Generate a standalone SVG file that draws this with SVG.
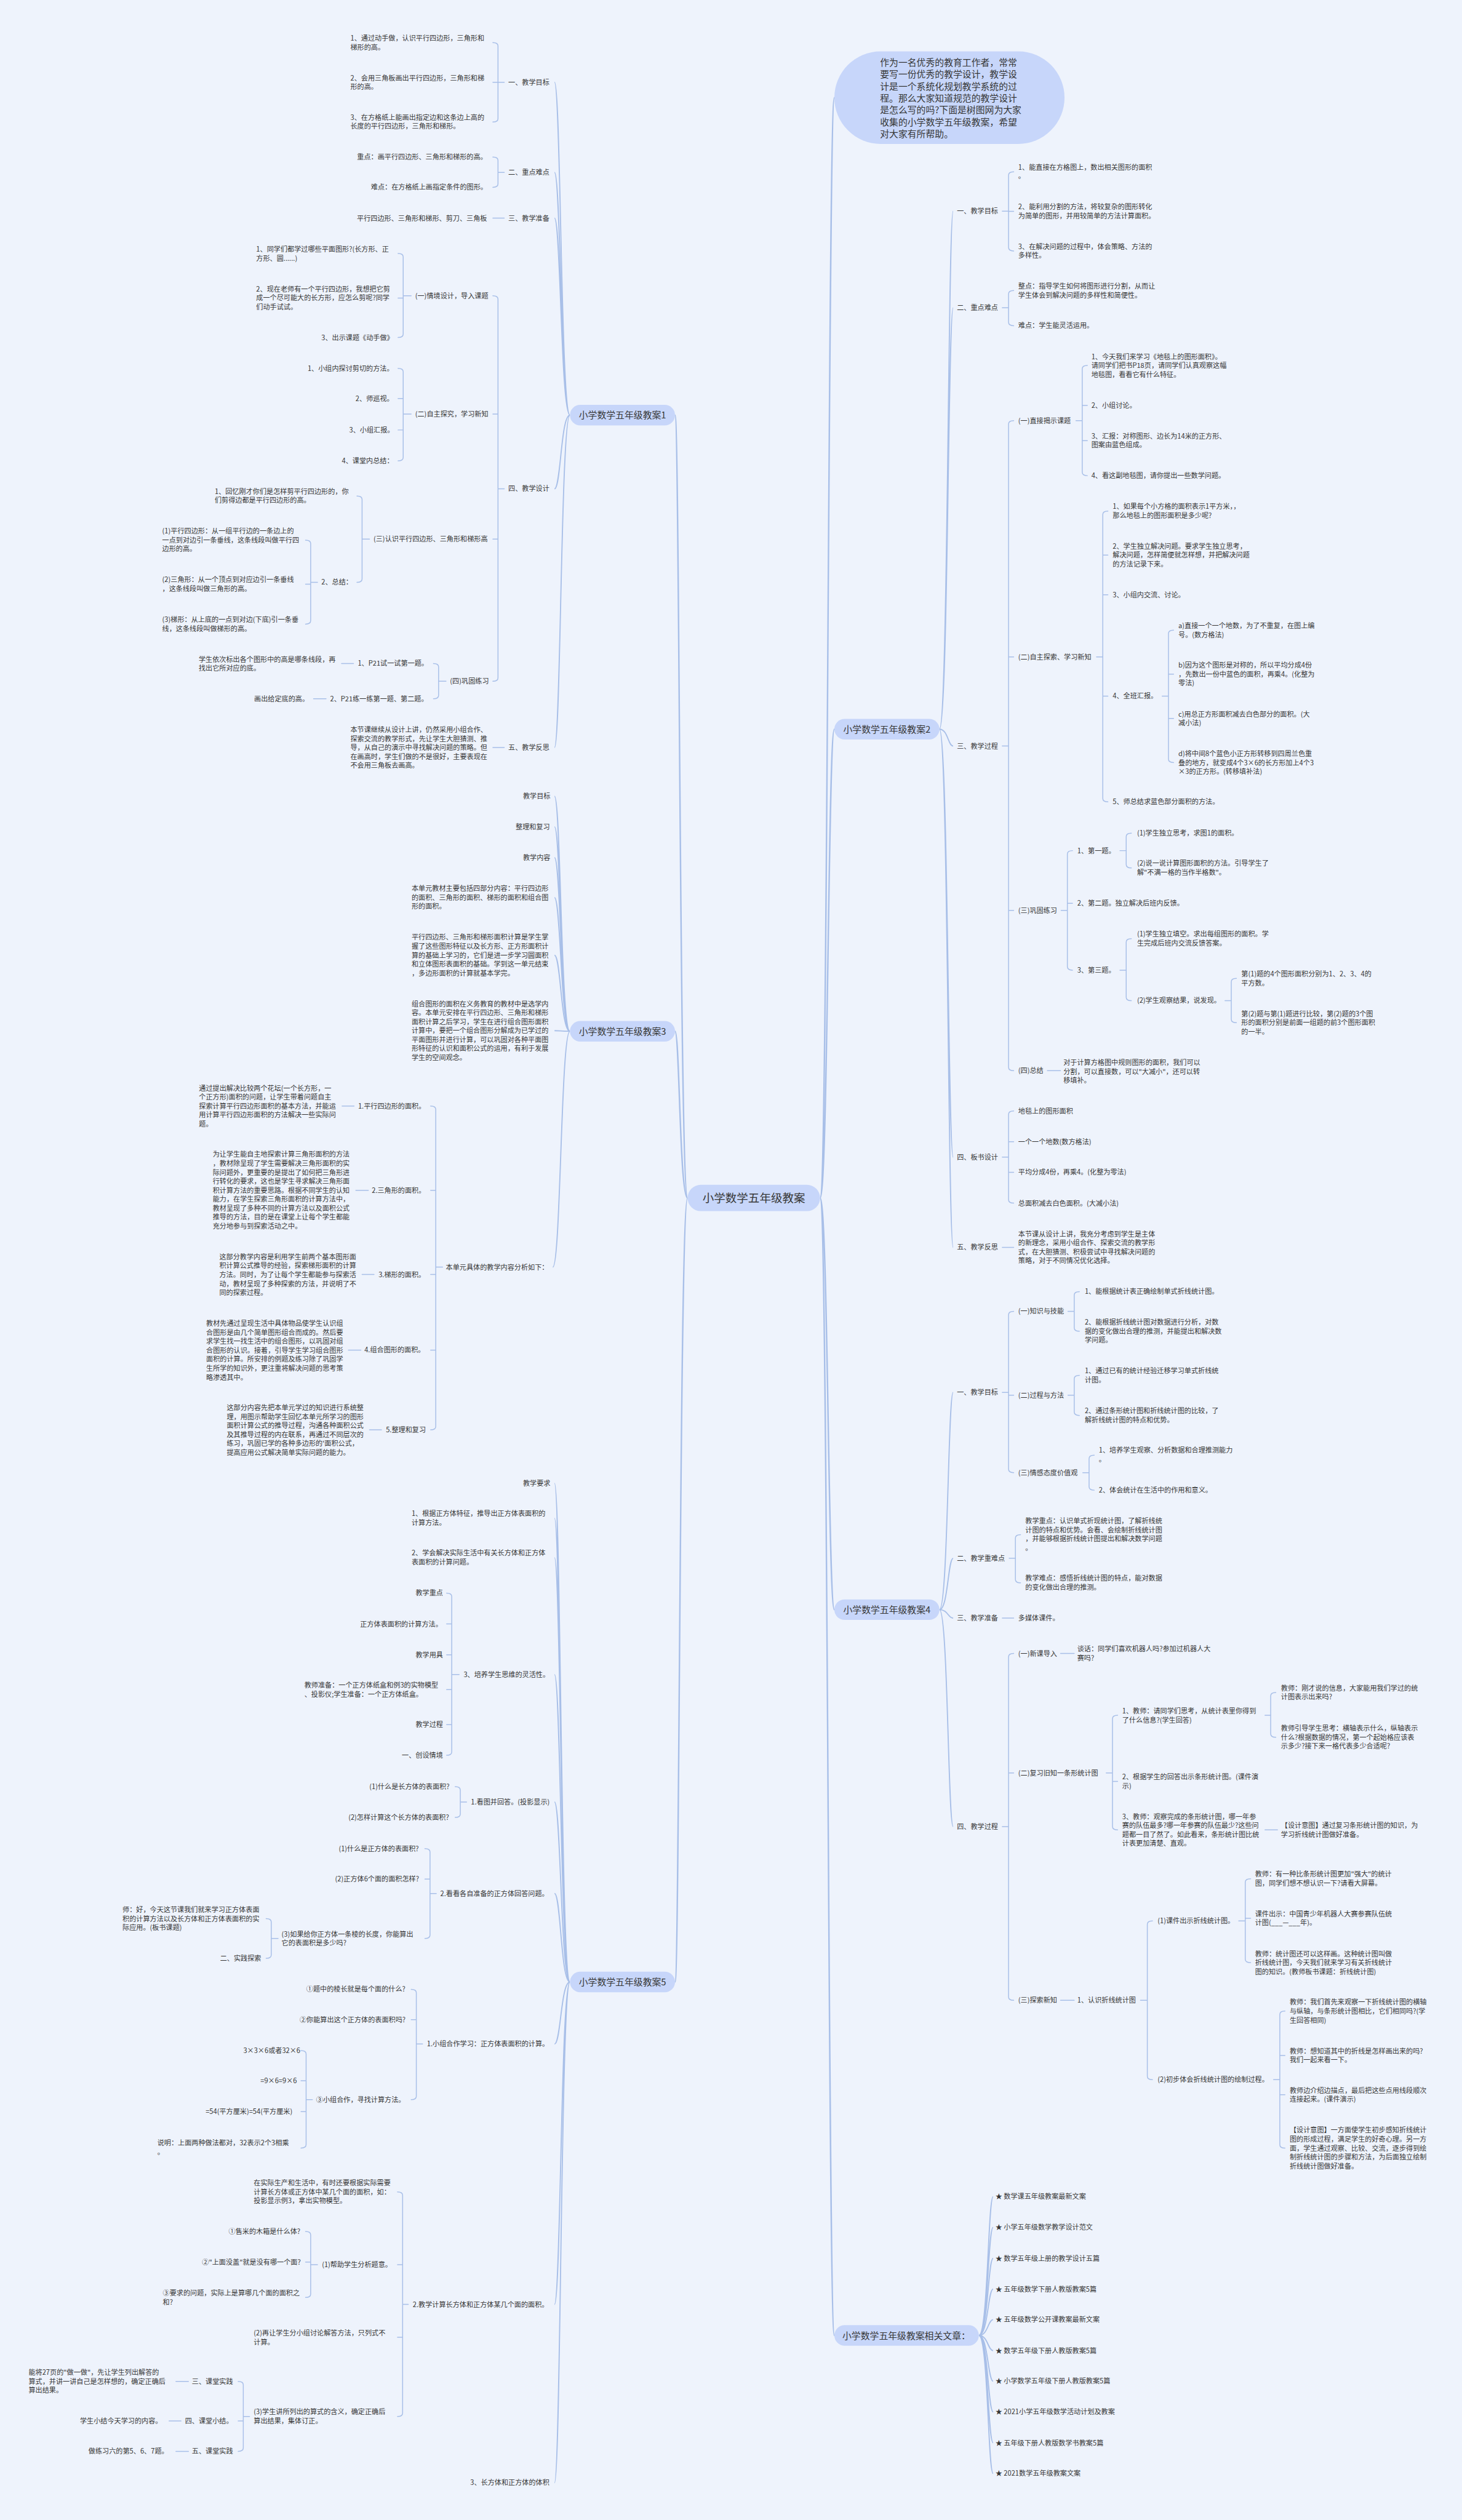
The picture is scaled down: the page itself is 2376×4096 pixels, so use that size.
<svg xmlns="http://www.w3.org/2000/svg" width="2376" height="4096" viewBox="0 0 2376 4096">
<style>
.t{font-family:"Noto Sans CJK SC","Noto Sans",sans-serif;font-size:12px;fill:#363636}
.n{font-family:"Noto Sans CJK SC","Noto Sans",sans-serif;font-size:16px;fill:#363636;text-anchor:middle}
.c{font-family:"Noto Sans CJK SC","Noto Sans",sans-serif;font-size:20px;fill:#363636;text-anchor:middle}
.b{font-family:"Noto Sans CJK SC","Noto Sans",sans-serif;font-size:16px;fill:#363636}
.box{fill:#c7d6fa}
.l{fill:none;stroke:#a8bfe8;stroke-width:1.6;stroke-linecap:round}
.l1{fill:none;stroke:#a8bfe8;stroke-width:2}
.m{fill:none;stroke:#a8bfe8;stroke-width:2.6}
</style>
<rect width="2376" height="4096" fill="#eef3fc"/>
<g transform="scale(0.928125)">
<g id="connectors">
<path class="m" d="M1204 2098C1190 2098 1190 727 1182 727M1204 2098C1190 2098 1190 1806 1182 1806M1204 2098C1190 2098 1190 3471 1182 3471M1436 2098C1450 2098 1450 171 1461 171M1436 2098C1450 2098 1450 1277 1461 1277M1436 2098C1450 2098 1450 2819 1461 2819M1436 2098C1450 2098 1450 4090 1461 4090"/>
<path class="l1" d="M998 727C982 727 982 144 971 144M998 727C982 727 982 302 971 302M998 727C982 727 982 382 971 382M998 727C982 727 982 856 971 856M998 727C982 727 982 1309 971 1309"/>
<path class="l1" d="M998 1806C982 1806 982 1394.5 971 1394.5M998 1806C982 1806 982 1448 971 1448M998 1806C982 1806 982 1502 971 1502M998 1806C982 1806 982 1572 971 1572M998 1806C982 1806 982 1673 971 1673M998 1806C982 1806 982 1805 971 1805M998 1806C982 1806 982 2219 968 2219"/>
<path class="l1" d="M998 3471C982 3471 982 2597.5 971 2597.5M998 3471C982 3471 982 2659 971 2659M998 3471C982 3471 982 2728 971 2728M998 3471C982 3471 982 2932.6 971 2932.6M998 3471C982 3471 982 3155.8 971 3155.8M998 3471C982 3471 982 3316 971 3316M998 3471C982 3471 982 3579.6 971 3579.6M998 3471C982 3471 982 4035.6 971 4035.6M998 3471C982 3471 982 4348 971 4348"/>
<path class="l1" d="M1645 1277C1660 1277 1660 369.8 1669 369.8M1645 1277C1660 1277 1660 539 1669 539M1645 1277C1660 1277 1660 1306.5 1669 1306.5M1645 1277C1660 1277 1660 2026.5 1669 2026.5M1645 1277C1660 1277 1660 2184.5 1669 2184.5"/>
<path class="l1" d="M1645 2819C1660 2819 1660 2438.4 1669 2438.4M1645 2819C1660 2819 1660 2729 1669 2729M1645 2819C1660 2819 1660 2833.7 1669 2833.7M1645 2819C1660 2819 1660 3198.8 1669 3198.8"/>
<path class="l1" d="M1714 4090C1730 4090 1730 3847 1739 3847M1714 4090C1730 4090 1730 3900.7 1739 3900.7M1714 4090C1730 4090 1730 3955 1739 3955M1714 4090C1730 4090 1730 4008.7 1739 4008.7M1714 4090C1730 4090 1730 4062.4 1739 4062.4M1714 4090C1730 4090 1730 4116.6 1739 4116.6M1714 4090C1730 4090 1730 4170 1739 4170M1714 4090C1730 4090 1730 4224 1739 4224M1714 4090C1730 4090 1730 4278 1739 4278M1714 4090C1730 4090 1730 4331.7 1739 4331.7"/>
<path class="l" d="M883 144H872M863 74.5Q872 74.5 872 80.5V207.7Q872 213.7 863 213.7M872 144H863"/>
<path class="l" d="M883 302H872M863 275Q872 275 872 281V322Q872 328 863 328"/>
<path class="l" d="M883 382H863"/>
<path class="l" d="M883 856H872M863 518Q872 518 872 524V1187Q872 1193 863 1193M872 725H863M872 944H863"/>
<path class="l" d="M720 518H706M697 444Q706 444 706 450V585Q706 591 697 591M706 522H697"/>
<path class="l" d="M720 725H706M697 645Q706 645 706 651V801Q706 807 697 807M706 698H697M706 753H697"/>
<path class="l" d="M647 944H634M625 868.6Q634 868.6 634 874.6V1013.8Q634 1019.8 625 1019.8"/>
<path class="l" d="M556 1019.8H544M535 946Q544 946 544 952V1087Q544 1093 535 1093M544 1023H535"/>
<path class="l" d="M781 1193H768M759 1162Q768 1162 768 1168V1217.7Q768 1223.7 759 1223.7"/>
<path class="l" d="M619 1162H598M571 1223.7H549M883 1309H863"/>
<path class="l" d="M775 2219H763M754 1937Q763 1937 763 1943V2498Q763 2504 754 2504M763 2084.5H754M763 2232H754M763 2364.4H754"/>
<path class="l" d="M620 1937H599M645 2084.5H623M655 2232H634M632 2364.4H610M668 2504H647"/>
<path class="l" d="M804 2932.6H791M782 2790Q791 2790 791 2796V3068Q791 3074 782 3074M791 2844H782M791 2898H782M791 2959H782M791 3020.4H782"/>
<path class="l" d="M817 3155.8H806M797 3129Q806 3129 806 3135V3176.7Q806 3182.7 797 3182.7"/>
<path class="l" d="M764 3316H753M744 3237.5Q753 3237.5 753 3243.5V3388.8Q753 3394.8 744 3394.8M753 3290.8H744"/>
<path class="l" d="M487 3394.8H475M466 3360Q475 3360 475 3366V3423.5Q475 3429.5 466 3429.5"/>
<path class="l" d="M740 3579.6H729M720 3483.8Q729 3483.8 729 3489.8V3671Q729 3677 720 3677M729 3537H720"/>
<path class="l" d="M547 3677H536M527 3591Q536 3591 536 3597V3755.8Q536 3761.8 527 3761.8M536 3644H527M536 3698H527"/>
<path class="l" d="M715 4035.6H705M696 3838.7Q705 3838.7 705 3844.7V4225.9Q705 4231.9 696 4231.9M705 3966H696M705 4093.3H696"/>
<path class="l" d="M556 3966H544M535 3908Q544 3908 544 3914V4017.5Q544 4023.5 535 4023.5M544 3961.4H535"/>
<path class="l" d="M437 4231.9H426M417 4170.6Q426 4170.6 426 4176.6V4287Q426 4293 417 4293M426 4239.7H417"/>
<path class="l" d="M330 4170.6H308M317 4239.7H296M330 4293H308"/>
<path class="l" d="M1755 369.8H1766M1775 300.8Q1766 300.8 1766 306.8V433.5Q1766 439.5 1775 439.5M1766 370H1775"/>
<path class="l" d="M1755 539H1766M1775 508.9Q1766 508.9 1766 514.9V564.4Q1766 570.4 1775 570.4"/>
<path class="l" d="M1755 1306.5H1766M1775 736.7Q1766 736.7 1766 742.7V1869Q1766 1875 1775 1875M1766 1150.4H1775M1766 1594.4H1775"/>
<path class="l" d="M1884 736.7H1895M1904 640Q1895 640 1895 646V827Q1895 833 1904 833M1895 710H1904M1895 771.6H1904"/>
<path class="l" d="M1920 1150.4H1931M1940 895Q1931 895 1931 901V1398.3Q1931 1404.3 1940 1404.3M1931 972H1940M1931 1041.5H1940M1931 1219H1940"/>
<path class="l" d="M2035 1219H2046M2055 1103.5Q2046 1103.5 2046 1109.5V1329.4Q2046 1335.4 2055 1335.4M2046 1180.5H2055M2046 1258.3H2055"/>
<path class="l" d="M1858 1594.4H1869M1878 1489.7Q1869 1489.7 1869 1495.7V1693Q1869 1699 1878 1699M1869 1582H1878"/>
<path class="l" d="M1961 1489.7H1972M1981 1459Q1972 1459 1972 1465V1514Q1972 1520 1981 1520"/>
<path class="l" d="M1961 1699H1972M1981 1643.9Q1972 1643.9 1972 1649.9V1746.4Q1972 1752.4 1981 1752.4"/>
<path class="l" d="M2145 1752.4H2156M2165 1713.5Q2156 1713.5 2156 1719.5V1785Q2156 1791 2165 1791"/>
<path class="l" d="M1834 1875H1857"/>
<path class="l" d="M1755 2026.5H1766M1775 1945.7Q1766 1945.7 1766 1951.7V2101Q1766 2107 1775 2107M1766 1999.4H1775M1766 2053H1775"/>
<path class="l" d="M1755 2184.5H1775"/>
<path class="l" d="M1755 2438.4H1766M1775 2296.5Q1766 2296.5 1766 2302.5V2573Q1766 2579 1775 2579M1766 2443.4H1775"/>
<path class="l" d="M1870 2296.5H1881M1890 2262Q1881 2262 1881 2268V2325.4Q1881 2331.4 1890 2331.4"/>
<path class="l" d="M1870 2443.4H1881M1890 2408.5Q1881 2408.5 1881 2414.5V2472.8Q1881 2478.8 1890 2478.8"/>
<path class="l" d="M1896 2579H1907M1916 2548.5Q1907 2548.5 1907 2554.5V2603.7Q1907 2609.7 1916 2609.7"/>
<path class="l" d="M1767 2729H1778M1787 2687.7Q1778 2687.7 1778 2693.7V2766Q1778 2772 1787 2772"/>
<path class="l" d="M1755 2833.7H1775"/>
<path class="l" d="M1755 3198.8H1766M1775 2895.7Q1766 2895.7 1766 2901.7V3497Q1766 3503 1775 3503M1766 3105H1775"/>
<path class="l" d="M1857 2895.7H1881"/>
<path class="l" d="M1937 3105H1948M1957 3004Q1948 3004 1948 3010V3198.7Q1948 3204.7 1957 3204.7M1948 3119.8H1957"/>
<path class="l" d="M2215 3004H2225M2234 2964Q2225 2964 2225 2970V3036.4Q2225 3042.4 2234 3042.4"/>
<path class="l" d="M2215 3204.7H2237"/>
<path class="l" d="M1857 3503H1881"/>
<path class="l" d="M1997 3503H2009M2018 3364Q2009 3364 2009 3370V3636Q2009 3642 2018 3642"/>
<path class="l" d="M2169 3364H2180.5M2190 3290.2Q2180.5 3290.2 2180.5 3296.2V3431Q2180.5 3437 2190 3437M2180.5 3359.5H2190"/>
<path class="l" d="M2230 3642H2241M2250 3522Q2241 3522 2241 3528V3756Q2241 3762 2250 3762M2241 3599.7H2250M2241 3668.5H2250"/>
</g>

<g id="center"><rect class="box" x="1204" y="2075" width="232" height="46" rx="23"/><text class="c" x="1320" y="2105">小学数学五年级教案</text></g>
<g id="intro"><rect class="box" x="1461" y="90" width="403" height="162" rx="81"/>
<text class="b" x="1541" y="115">作为一名优秀的教育工作者，常常<tspan x="1541" dy="20.9">要写一份优秀的教学设计，教学设</tspan><tspan x="1541" dy="20.9">计是一个系统化规划教学系统的过</tspan><tspan x="1541" dy="20.9">程。那么大家知道规范的教学设计</tspan><tspan x="1541" dy="20.9">是怎么写的吗?下面是树图网为大家</tspan><tspan x="1541" dy="20.9">收集的小学数学五年级教案，希望</tspan><tspan x="1541" dy="20.9">对大家有所帮助。</tspan></text></g>

<g id="plan1">
<rect class="box" x="998" y="709" width="184" height="36" rx="18"/><text class="n" x="1090" y="733">小学数学五年级教案1</text>
<text class="t" x="890" y="148.3">一、教学目标</text>
<text class="t" x="890" y="306.3">二、重点难点</text>
<text class="t" x="890" y="386.3">三、教学准备</text>
<text class="t" x="890" y="860.3">四、教学设计</text>
<text class="t" x="890" y="1313.3">五、教学反思</text>
<text class="t" x="613.6" y="71.3">1、通过动手做，认识平行四边形，三角形和<tspan x="613.6" dy="15.7">梯形的高。</tspan></text>
<text class="t" x="613.6" y="140.7">2、会用三角板画出平行四边形，三角形和梯<tspan x="613.6" dy="15.7">形的高。</tspan></text>
<text class="t" x="613.6" y="210">3、在方格纸上能画出指定边和这条边上高的<tspan x="613.6" dy="15.7">长度的平行四边形，三角形和梯形。</tspan></text>
<text class="t" x="625.3" y="279.3">重点：画平行四边形、三角形和梯形的高。</text>
<text class="t" x="649.5" y="332.3">难点：在方格纸上画指定条件的图形。</text>
<text class="t" x="625" y="386.3">平行四边形、三角形和梯形、剪刀、三角板</text>
<text class="t" x="727" y="522.3">(一)情境设计，导入课题</text>
<text class="t" x="727" y="729.3">(二)自主探究，学习新知</text>
<text class="t" x="654" y="948.3">(三)认识平行四边形、三角形和梯形高</text>
<text class="t" x="788" y="1197.3">(四)巩固练习</text>
<text class="t" x="448.6" y="440.8">1、同学们都学过哪些平面图形?(长方形、正<tspan x="448.6" dy="15.7">方形、圆......)</tspan></text>
<text class="t" x="448.6" y="510.3">2、现在老师有一个平行四边形，我想把它剪<tspan x="448.6" dy="15.7">成一个尽可能大的长方形，应怎么剪呢?同学</tspan><tspan x="448.6" dy="15.7">们动手试试。</tspan></text>
<text class="t" x="562.7" y="595.3">3、出示课题《动手做》</text>
<text class="t" x="538.6" y="649.3">1、小组内探讨剪切的方法。</text>
<text class="t" x="622.6" y="702.3">2、师巡视。</text>
<text class="t" x="611.4" y="757.3">3、小组汇报。</text>
<text class="t" x="598.6" y="811.3">4、课堂内总结：</text>
<text class="t" x="376" y="865.1">1、回忆刚才你们是怎样剪平行四边形的，你<tspan x="376" dy="15.7">们剪得边都是平行四边形的高。</tspan></text>
<text class="t" x="562.7" y="1024.1">2、总结：</text>
<text class="t" x="284" y="934.3">(1)平行四边形：从一组平行边的一条边上的<tspan x="284" dy="15.7">一点到对边引一条垂线，这条线段叫做平行四</tspan><tspan x="284" dy="15.7">边形的高。</tspan></text>
<text class="t" x="284" y="1019.3">(2)三角形：从一个顶点到对应边引一条垂线<tspan x="284" dy="15.7">，这条线段叫做三角形的高。</tspan></text>
<text class="t" x="284" y="1089.3">(3)梯形：从上底的一点到对边(下底)引一条垂<tspan x="284" dy="15.7">线，这条线段叫做梯形的高。</tspan></text>
<text class="t" x="626.4" y="1166.3">1、P21试一试第一题。</text>
<text class="t" x="347.9" y="1159.1">学生依次标出各个图形中的高是哪条线段，再<tspan x="347.9" dy="15.7">找出它所对应的底。</tspan></text>
<text class="t" x="578" y="1228">2、P21练一练第一题、第二题。</text>
<text class="t" x="445" y="1228">画出给定底的高。</text>
<text class="t" x="613.6" y="1282.3">本节课继续从设计上讲，仍然采用小组合作、<tspan x="613.6" dy="15.7">探索交流的教学形式，先让学生大胆猜测、推</tspan><tspan x="613.6" dy="15.7">导，从自己的演示中寻找解决问题的策略。但</tspan><tspan x="613.6" dy="15.7">在画高时，学生们做的不是很好，主要表现在</tspan><tspan x="613.6" dy="15.7">不会用三角板去画高。</tspan></text>
</g>

<g id="plan3">
<rect class="box" x="998" y="1788" width="184" height="36" rx="18"/><text class="n" x="1090" y="1812">小学数学五年级教案3</text>
<text class="t" x="915.7" y="1398.8">教学目标</text>
<text class="t" x="903" y="1452.3">整理和复习</text>
<text class="t" x="915.7" y="1506.3">教学内容</text>
<text class="t" x="720.7" y="1560.3">本单元教材主要包括四部分内容：平行四边形<tspan x="720.7" dy="15.7">的面积、三角形的面积、梯形的面积和组合图</tspan><tspan x="720.7" dy="15.7">形的面积。</tspan></text>
<text class="t" x="720.7" y="1645.7">平行四边形、三角形和梯形面积计算是学生掌<tspan x="720.7" dy="15.7">握了这些图形特征以及长方形、正方形面积计</tspan><tspan x="720.7" dy="15.7">算的基础上学习的，它们是进一步学习圆面积</tspan><tspan x="720.7" dy="15.7">和立体图形表面积的基础。学到这一单元结束</tspan><tspan x="720.7" dy="15.7">，多边形面积的计算就基本学完。</tspan></text>
<text class="t" x="720.7" y="1762.3">组合图形的面积在义务教育的教材中是选学内<tspan x="720.7" dy="15.7">容。本单元安排在平行四边形、三角形和梯形</tspan><tspan x="720.7" dy="15.7">面积计算之后学习，学生在进行组合图形面积</tspan><tspan x="720.7" dy="15.7">计算中，要把一个组合图形分解成为已学过的</tspan><tspan x="720.7" dy="15.7">平面图形并进行计算，可以巩固对各种平面图</tspan><tspan x="720.7" dy="15.7">形特征的认识和面积公式的运用，有利于发展</tspan><tspan x="720.7" dy="15.7">学生的空间观念。</tspan></text>
<text class="t" x="780.7" y="2223.3">本单元具体的教学内容分析如下：</text>
<text class="t" x="627" y="1941.3">1.平行四边形的面积。</text>
<text class="t" x="348.4" y="1909.9">通过提出解决比较两个花坛(一个长方形，一<tspan x="348.4" dy="15.7">个正方形)面积的问题，让学生带着问题自主</tspan><tspan x="348.4" dy="15.7">探索计算平行四边形面积的基本方法，并能运</tspan><tspan x="348.4" dy="15.7">用计算平行四边形面积的方法解决一些实际问</tspan><tspan x="348.4" dy="15.7">题。</tspan></text>
<text class="t" x="651" y="2088.8">2.三角形的面积。</text>
<text class="t" x="372.5" y="2026">为让学生能自主地探索计算三角形面积的方法<tspan x="372.5" dy="15.7">，教材除呈现了学生需要解决三角形面积的实</tspan><tspan x="372.5" dy="15.7">际问题外，更重要的是提出了如何把三角形进</tspan><tspan x="372.5" dy="15.7">行转化的要求，这也是学生寻求解决三角形面</tspan><tspan x="372.5" dy="15.7">积计算方法的重要思路。根据不同学生的认知</tspan><tspan x="372.5" dy="15.7">能力，在学生探索三角形面积的计算方法中，</tspan><tspan x="372.5" dy="15.7">教材呈现了多种不同的计算方法以及面积公式</tspan><tspan x="372.5" dy="15.7">推导的方法，目的是在课堂上让每个学生都能</tspan><tspan x="372.5" dy="15.7">充分地参与到探索活动之中。</tspan></text>
<text class="t" x="662.8" y="2236.3">3.梯形的面积。</text>
<text class="t" x="384" y="2205.3">这部分教学内容是利用学生前两个基本图形面<tspan x="384" dy="15.7">积计算公式推导的经验，探索梯形面积的计算</tspan><tspan x="384" dy="15.7">方法。同时，为了让每个学生都能参与探索活</tspan><tspan x="384" dy="15.7">动，教材呈现了多种探索的方法，并说明了不</tspan><tspan x="384" dy="15.7">同的探索过程。</tspan></text>
<text class="t" x="638" y="2368.7">4.组合图形的面积。</text>
<text class="t" x="361" y="2322">教材先通过呈现生活中具体物品使学生认识组<tspan x="361" dy="15.7">合图形是由几个简单图形组合而成的。然后要</tspan><tspan x="361" dy="15.7">求学生找一找生活中的组合图形，以巩固对组</tspan><tspan x="361" dy="15.7">合图形的认识。接着，引导学生学习组合图形</tspan><tspan x="361" dy="15.7">面积的计算。所安排的例题及练习除了巩固学</tspan><tspan x="361" dy="15.7">生所学的知识外，更注重将解决问题的思考策</tspan><tspan x="361" dy="15.7">略渗透其中。</tspan></text>
<text class="t" x="675.7" y="2508.3">5.整理和复习</text>
<text class="t" x="397" y="2469.7">这部分内容先把本单元学过的知识进行系统整<tspan x="397" dy="15.7">理，用图示帮助学生回忆本单元所学习的图形</tspan><tspan x="397" dy="15.7">面积计算公式的推导过程，沟通各种面积公式</tspan><tspan x="397" dy="15.7">及其推导过程的内在联系，再通过不同层次的</tspan><tspan x="397" dy="15.7">练习，巩固已学的各种多边形的'面积公式，</tspan><tspan x="397" dy="15.7">提高应用公式解决简单实际问题的能力。</tspan></text>
</g>

<g id="plan5">
<rect class="box" x="998" y="3453" width="184" height="36" rx="18"/><text class="n" x="1090" y="3477">小学数学五年级教案5</text>
<text class="t" x="915.7" y="2601.8">教学要求</text>
<text class="t" x="720.7" y="2655.3">1、根据正方体特征，推导出正方体表面积的<tspan x="720.7" dy="15.7">计算方法。</tspan></text>
<text class="t" x="720.7" y="2724.3">2、学会解决实际生活中有关长方体和正方体<tspan x="720.7" dy="15.7">表面积的计算问题。</tspan></text>
<text class="t" x="811.8" y="2936.9">3、培养学生思维的灵活性。</text>
<text class="t" x="727.7" y="2794.3">教学重点</text>
<text class="t" x="630.7" y="2848.3">正方体表面积的计算方法。</text>
<text class="t" x="727.7" y="2902.3">教学用具</text>
<text class="t" x="533" y="2955.8">教师准备：一个正方体纸盒和例3的实物模型<tspan x="533" dy="15.7">、投影仪;学生准备：一个正方体纸盒。</tspan></text>
<text class="t" x="727.7" y="3024.7">教学过程</text>
<text class="t" x="703.6" y="3078.3">一、创设情境</text>
<text class="t" x="824.6" y="3160.1">1.看图并回答。(投影显示)</text>
<text class="t" x="646.8" y="3133.3">(1)什么是长方体的表面积?</text>
<text class="t" x="610" y="3187">(2)怎样计算这个长方体的表面积?</text>
<text class="t" x="771" y="3320.3">2.看看各自准备的正方体回答问题。</text>
<text class="t" x="593" y="3241.8">(1)什么是正方体的表面积?</text>
<text class="t" x="586.8" y="3295.1">(2)正方体6个面的面积怎样?</text>
<text class="t" x="493" y="3391.3">(3)如果给你正方体一条棱的长度，你能算出<tspan x="493" dy="15.7">它的表面积是多少吗?</tspan></text>
<text class="t" x="214.5" y="3348.9">师：好，今天这节课我们就来学习正方体表面<tspan x="214.5" dy="15.7">积的计算方法以及长方体和正方体表面积的实</tspan><tspan x="214.5" dy="15.7">际应用。(板书课题)</tspan></text>
<text class="t" x="385.4" y="3433.8">二、实践探索</text>
<text class="t" x="747.5" y="3583.9">1.小组合作学习：正方体表面积的计算。</text>
<text class="t" x="536.4" y="3488.1">①题中的棱长就是每个面的什么?</text>
<text class="t" x="524.6" y="3541.3">②你能算出这个正方体的表面积吗?</text>
<text class="t" x="553.6" y="3681.3">③小组合作，寻找计算方法。</text>
<text class="t" x="426" y="3595.3">3×3×6或者32×6</text>
<text class="t" x="456" y="3648.3">=9×6=9×6</text>
<text class="t" x="360" y="3702.3">=54(平方厘米)=54(平方厘米)</text>
<text class="t" x="275.5" y="3757.3">说明：上面两种做法都对，32表示2个3相乘<tspan x="275.5" dy="15.7">。</tspan></text>
<text class="t" x="722.8" y="4039.9">2.教学计算长方体和正方体某几个面的面积。</text>
<text class="t" x="444.3" y="3827.1">在实际生产和生活中，有时还要根据实际需要<tspan x="444.3" dy="15.7">计算长方体或正方体中某几个面的面积，如：</tspan><tspan x="444.3" dy="15.7">投影显示例3，拿出实物模型。</tspan></text>
<text class="t" x="563.7" y="3970.3">(1)帮助学生分析题意。</text>
<text class="t" x="400.4" y="3912.3">①售米的木箱是什么体?</text>
<text class="t" x="353.7" y="3965.7">②"上面没盖"就是没有哪一个面?</text>
<text class="t" x="285" y="4020.3">③要求的问题，实际上是算哪几个面的面积之<tspan x="285" dy="15.7">和?</tspan></text>
<text class="t" x="444.3" y="4089.9">(2)再让学生分小组讨论解答方法，只列式不<tspan x="444.3" dy="15.7">计算。</tspan></text>
<text class="t" x="444.3" y="4228.3">(3)学生讲所列出的算式的含义，确定正确后<tspan x="444.3" dy="15.7">算出结果，集体订正。</tspan></text>
<text class="t" x="336" y="4174.9">三、课堂实践</text>
<text class="t" x="50" y="4159">能将27页的"做一做"，先让学生列出解答的<tspan x="50" dy="15.7">算式，并讲一讲自己是怎样想的，确定正确后</tspan><tspan x="50" dy="15.7">算出结果。</tspan></text>
<text class="t" x="324" y="4244">四、课堂小结。</text>
<text class="t" x="140" y="4244">学生小结今天学习的内容。</text>
<text class="t" x="336" y="4297.3">五、课堂实践</text>
<text class="t" x="155" y="4297.3">做练习六的第5、6、7题。</text>
<text class="t" x="823.5" y="4352.3">3、长方体和正方体的体积</text>
</g>

<g id="plan2">
<rect class="box" x="1461" y="1259" width="184" height="36" rx="18"/><text class="n" x="1553" y="1283">小学数学五年级教案2</text>
<text class="t" x="1675.6" y="374.1">一、教学目标</text>
<text class="t" x="1675.6" y="543.3">二、重点难点</text>
<text class="t" x="1675.6" y="1310.8">三、教学过程</text>
<text class="t" x="1675.6" y="2030.8">四、板书设计</text>
<text class="t" x="1675.6" y="2188.8">五、教学反思</text>
<text class="t" x="1783" y="296.9">1、能直接在方格图上，数出相关图形的面积<tspan x="1783" dy="15.7">。</tspan></text>
<text class="t" x="1783" y="366.3">2、能利用分割的方法，将较复杂的图形转化<tspan x="1783" dy="15.7">为简单的图形，并用较简单的方法计算面积。</tspan></text>
<text class="t" x="1783" y="436">3、在解决问题的过程中，体会策略、方法的<tspan x="1783" dy="15.7">多样性。</tspan></text>
<text class="t" x="1783" y="505.3">整点：指导学生如何将图形进行分割，从而让<tspan x="1783" dy="15.7">学生体会到解决问题的多样性和简便性。</tspan></text>
<text class="t" x="1783" y="574.7">难点：学生能灵活运用。</text>
<text class="t" x="1783" y="741">(一)直接揭示课题</text>
<text class="t" x="1783" y="1154.7">(二)自主探索、学习新知</text>
<text class="t" x="1783" y="1598.7">(三)巩固练习</text>
<text class="t" x="1783" y="1879.3">(四)总结</text>
<text class="t" x="1911" y="628.9">1、今天我们来学习《地毯上的图形面积》。<tspan x="1911" dy="15.7">请同学们把书P18页，请同学们认真观察这幅</tspan><tspan x="1911" dy="15.7">地毯图，看看它有什么特征。</tspan></text>
<text class="t" x="1911" y="714.3">2、小组讨论。</text>
<text class="t" x="1911" y="768.1">3、汇报：对称图形、边长为14米的正方形、<tspan x="1911" dy="15.7">图案由蓝色组成。</tspan></text>
<text class="t" x="1911" y="837.3">4、看这副地毯图，请你提出一些数学问题。</text>
<text class="t" x="1948.3" y="891.3">1、如果每个小方格的面积表示1平方米，，<tspan x="1948.3" dy="15.7">那么地毯上的图形面积是多少呢?</tspan></text>
<text class="t" x="1948.3" y="960.9">2、学生独立解决问题。要求学生独立思考，<tspan x="1948.3" dy="15.7">解决问题，怎样简便就怎样想，并把解决问题</tspan><tspan x="1948.3" dy="15.7">的方法记录下来。</tspan></text>
<text class="t" x="1948.3" y="1045.8">3、小组内交流、讨论。</text>
<text class="t" x="1948.3" y="1223.3">4、全班汇报。</text>
<text class="t" x="1948.3" y="1408.6">5、师总结求蓝色部分面积的方法。</text>
<text class="t" x="2063.4" y="1100">a)直接一个一个地数，为了不重复，在图上编<tspan x="2063.4" dy="15.7">号。(数方格法)</tspan></text>
<text class="t" x="2063.4" y="1169.3">b)因为这个图形是对称的，所以平均分成4份<tspan x="2063.4" dy="15.7">，先数出一份中蓝色的面积，再乘4。(化整为</tspan><tspan x="2063.4" dy="15.7">零法)</tspan></text>
<text class="t" x="2063.4" y="1254.8">c)用总正方形面积减去白色部分的面积。(大<tspan x="2063.4" dy="15.7">减小法)</tspan></text>
<text class="t" x="2063.4" y="1324.1">d)将中间8个蓝色小正方形转移到四周兰色重<tspan x="2063.4" dy="15.7">叠的地方，就变成4个3×6的长方形加上4个3</tspan><tspan x="2063.4" dy="15.7">×3的正方形。(转移填补法)</tspan></text>
<text class="t" x="1886.3" y="1494">1、第一题。</text>
<text class="t" x="1886.3" y="1586.3">2、第二题。独立解决后班内反馈。</text>
<text class="t" x="1886.3" y="1703.3">3、第三题。</text>
<text class="t" x="1991" y="1463.3">(1)学生独立思考，求图1的面积。</text>
<text class="t" x="1991" y="1516.1">(2)说一说计算图形面积的方法。引导学生了<tspan x="1991" dy="15.7">解"不满一格的当作半格数"。</tspan></text>
<text class="t" x="1991" y="1640.3">(1)学生独立填空。求出每组图形的面积。学<tspan x="1991" dy="15.7">生完成后班内交流反馈答案。</tspan></text>
<text class="t" x="1991" y="1756.7">(2)学生观察结果，说发现。</text>
<text class="t" x="2173.6" y="1710.3">第(1)题的4个图形面积分别为1、2、3、4的<tspan x="2173.6" dy="15.7">平方数。</tspan></text>
<text class="t" x="2173.6" y="1779.6">第(2)题与第(1)题进行比较，第(2)题的3个图<tspan x="2173.6" dy="15.7">形的面积分别是前面一组题的前3个图形面积</tspan><tspan x="2173.6" dy="15.7">的一半。</tspan></text>
<text class="t" x="1862" y="1865">对于计算方格图中规则图形的面积，我们可以<tspan x="1862" dy="15.7">分割，可以直接数，可以"大减小"，还可以转</tspan><tspan x="1862" dy="15.7">移填补。</tspan></text>
<text class="t" x="1783" y="1950">地毯上的图形面积</text>
<text class="t" x="1783" y="2003.7">一个一个地数(数方格法)</text>
<text class="t" x="1783" y="2057.3">平均分成4份，再乘4。(化整为零法)</text>
<text class="t" x="1783" y="2111.3">总面积减去白色面积。(大减小法)</text>
<text class="t" x="1783" y="2165.3">本节课从设计上讲，我充分考虑到学生是主体<tspan x="1783" dy="15.7">的新理念，采用小组合作、探索交流的教学形</tspan><tspan x="1783" dy="15.7">式，在大胆猜测、积极尝试中寻找解决问题的</tspan><tspan x="1783" dy="15.7">策略，对于不同情况优化选择。</tspan></text>
</g>

<g id="plan4">
<rect class="box" x="1461" y="2801" width="184" height="36" rx="18"/><text class="n" x="1553" y="2825">小学数学五年级教案4</text>
<text class="t" x="1675.6" y="2442.7">一、教学目标</text>
<text class="t" x="1675.6" y="2733.3">二、教学重难点</text>
<text class="t" x="1675.6" y="2838">三、教学准备</text>
<text class="t" x="1675.6" y="3203.1">四、教学过程</text>
<text class="t" x="1783" y="2300.8">(一)知识与技能</text>
<text class="t" x="1783" y="2447.7">(二)过程与方法</text>
<text class="t" x="1783" y="2583.3">(三)情感态度价值观</text>
<text class="t" x="1899.4" y="2266.3">1、能根据统计表正确绘制单式折线统计图。</text>
<text class="t" x="1899.4" y="2320.1">2、能根据折线统计图对数据进行分析，对数<tspan x="1899.4" dy="15.7">据的变化做出合理的推测，并能提出和解决数</tspan><tspan x="1899.4" dy="15.7">学问题。</tspan></text>
<text class="t" x="1899.4" y="2405">1、通过已有的统计经验迁移学习单式折线统<tspan x="1899.4" dy="15.7">计图。</tspan></text>
<text class="t" x="1899.4" y="2475.3">2、通过条形统计图和折线统计图的比较，了<tspan x="1899.4" dy="15.7">解折线统计图的特点和优势。</tspan></text>
<text class="t" x="1924" y="2544.3">1、培养学生观察、分析数据和合理推测能力<tspan x="1924" dy="15.7">。</tspan></text>
<text class="t" x="1924" y="2614">2、体会统计在生活中的作用和意义。</text>
<text class="t" x="1795.4" y="2667.7">教学重点：认识单式折现统计图，了解折线统<tspan x="1795.4" dy="15.7">计图的特点和优势。会看、会绘制折线统计图</tspan><tspan x="1795.4" dy="15.7">，并能够根据折线统计图提出和解决数学问题</tspan><tspan x="1795.4" dy="15.7">。</tspan></text>
<text class="t" x="1795.4" y="2768.3">教学难点：感悟折线统计图的特点，能对数据<tspan x="1795.4" dy="15.7">的变化做出合理的推测。</tspan></text>
<text class="t" x="1783" y="2838">多媒体课件。</text>
<text class="t" x="1783" y="2900">(一)新课导入</text>
<text class="t" x="1886.3" y="2892.3">谈话：同学们喜欢机器人吗?参加过机器人大<tspan x="1886.3" dy="15.7">赛吗?</tspan></text>
<text class="t" x="1783" y="3109.3">(二)复习旧知一条形统计图</text>
<text class="t" x="1965" y="3000.6">1、教师：请同学们思考，从统计表里你得到<tspan x="1965" dy="15.7">了什么信息?(学生回答)</tspan></text>
<text class="t" x="2243" y="2960.3">教师：刚才说的信息，大家能用我们学过的统<tspan x="2243" dy="15.7">计图表示出来吗?</tspan></text>
<text class="t" x="2243" y="3030.9">教师引导学生思考：横轴表示什么，纵轴表示<tspan x="2243" dy="15.7">什么?根据数据的情况，第一个起始格应该表</tspan><tspan x="2243" dy="15.7">示多少?接下来一格代表多少合适呢?</tspan></text>
<text class="t" x="1965" y="3116.3">2、根据学生的回答出示条形统计图。(课件演<tspan x="1965" dy="15.7">示)</tspan></text>
<text class="t" x="1965" y="3185.6">3、教师：观察完成的条形统计图，哪一年参<tspan x="1965" dy="15.7">赛的队伍最多?哪一年参赛的队伍最少?这些问</tspan><tspan x="1965" dy="15.7">题都一目了然了。如此看来，条形统计图比统</tspan><tspan x="1965" dy="15.7">计表更加清楚、直观。</tspan></text>
<text class="t" x="2243" y="3201.3">【设计意图】通过复习条形统计图的知识，为<tspan x="2243" dy="15.7">学习折线统计图做好准备。</tspan></text>
<text class="t" x="1783" y="3507.3">(三)探索新知</text>
<text class="t" x="1886.3" y="3507.3">1、认识折线统计图</text>
<text class="t" x="2027" y="3368.3">(1)课件出示折线统计图。</text>
<text class="t" x="2027" y="3646.3">(2)初步体会折线统计图的绘制过程。</text>
<text class="t" x="2197.7" y="3286.7">教师：有一种比条形统计图更加"强大"的统计<tspan x="2197.7" dy="15.7">图，同学们想不想认识一下?请看大屏幕。</tspan></text>
<text class="t" x="2197.7" y="3356">课件出示：中国青少年机器人大赛参赛队伍统<tspan x="2197.7" dy="15.7">计图(___—___年)。</tspan></text>
<text class="t" x="2197.7" y="3425.8">教师：统计图还可以这样画。这种统计图叫做<tspan x="2197.7" dy="15.7">折线统计图，今天我们就来学习有关折线统计</tspan><tspan x="2197.7" dy="15.7">图的知识。(教师板书课题：折线统计图)</tspan></text>
<text class="t" x="2258.3" y="3510.8">教师：我们首先来观察一下折线统计图的横轴<tspan x="2258.3" dy="15.7">与纵轴，与条形统计图相比，它们相同吗?(学</tspan><tspan x="2258.3" dy="15.7">生回答相同)</tspan></text>
<text class="t" x="2258.3" y="3596.2">教师：想知道其中的折线是怎样画出来的吗?<tspan x="2258.3" dy="15.7">我们一起来看一下。</tspan></text>
<text class="t" x="2258.3" y="3665.3">教师边介绍边描点，最后把这些点用线段顺次<tspan x="2258.3" dy="15.7">连接起来。(课件演示)</tspan></text>
<text class="t" x="2258.3" y="3734.8">【设计意图】一方面使学生初步感知折线统计<tspan x="2258.3" dy="15.7">图的形成过程，满足学生的好奇心理。另一方</tspan><tspan x="2258.3" dy="15.7">面，学生通过观察、比较、交流，逐步得到绘</tspan><tspan x="2258.3" dy="15.7">制折线统计图的步骤和方法，为后面独立绘制</tspan><tspan x="2258.3" dy="15.7">折线统计图做好准备。</tspan></text>
</g>

<g id="related">
<rect class="box" x="1461" y="4072" width="253" height="36" rx="18"/><text class="n" x="1587" y="4096">小学数学五年级教案相关文章：</text>
<text class="t" x="1743" y="3851.2">★ 数学课五年级教案最新文案</text>
<text class="t" x="1743" y="3905">★ 小学五年级数学教学设计范文</text>
<text class="t" x="1743" y="3959.2">★ 数学五年级上册的教学设计五篇</text>
<text class="t" x="1743" y="4013">★ 五年级数学下册人教版教案5篇</text>
<text class="t" x="1743" y="4066.7">★ 五年级数学公开课教案最新文案</text>
<text class="t" x="1743" y="4120.9">★ 数学五年级下册人教版教案5篇</text>
<text class="t" x="1743" y="4174.3">★ 小学数学五年级下册人教版教案5篇</text>
<text class="t" x="1743" y="4228.3">★ 2021小学五年级数学活动计划及教案</text>
<text class="t" x="1743" y="4282.3">★ 五年级下册人教版数学书教案5篇</text>
<text class="t" x="1743" y="4336">★ 2021数学五年级教案文案</text>
</g>
</g>
</svg>
